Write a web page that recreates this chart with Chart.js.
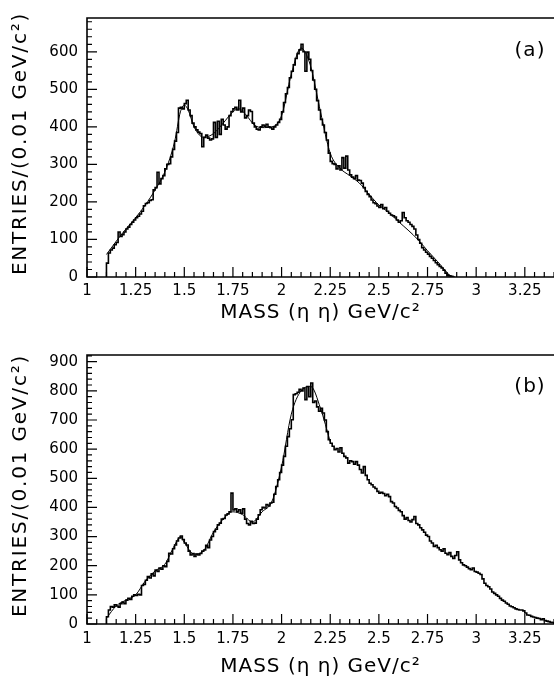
<!DOCTYPE html>
<html><head><meta charset="utf-8">
<script src="https://cdn.jsdelivr.net/npm/chart.js@4.4.1/dist/chart.umd.min.js"></script>
<style>html,body{margin:0;padding:0;background:#fff;}canvas{display:block;}</style>
</head><body>
<canvas id="ca" width="554" height="332"></canvas>
<canvas id="cb" width="554" height="346"></canvas>
<script>
// ---------- data ----------
const binWidth = 0.01;
const histAStart = 1.10;
const histA = [
 37,64,72,77,86,92,120,108,113,120,
 128,133,140,146,152,158,162,168,175,190,
 196,198,204,206,232,238,279,248,262,270,
 288,300,302,320,340,362,385,450,452,448,
 462,471,445,430,410,400,392,386,382,347,
 372,378,370,365,368,412,372,415,380,420,
 405,394,400,430,441,448,452,445,471,440,
 450,424,430,445,441,410,400,394,392,400,
 405,402,407,400,398,394,400,405,412,420,
 440,465,488,505,531,548,565,582,595,605,
 620,600,548,599,580,550,525,500,470,445,
 420,405,385,365,330,308,302,300,288,296,
 285,318,290,322,285,272,266,262,270,258,
 257,250,238,228,220,214,205,198,195,189,
 185,193,182,185,175,170,165,163,160,152,
 146,150,172,158,150,146,140,135,128,112,
 100,90,78,72,66,61,55,50,44,38,
 33,28,24,18,10,5,3,2,0
];
const fitAX = [1.10,1.15,1.20,1.25,1.30,1.35,1.40,1.45,1.48,1.50,1.52,1.55,1.60,1.65,1.70,1.75,1.78,1.82,1.86,1.90,1.95,2.00,2.05,2.10,2.12,2.15,2.20,2.25,2.30,2.35,2.40,2.45,2.50,2.55,2.60,2.65,2.70,2.75,2.80,2.85,2.87];
const fitAY = [60,95,128,158,192,232,280,360,440,458,445,400,372,382,410,440,448,430,405,398,400,430,540,610,600,560,440,330,290,270,250,220,192,172,148,125,100,70,42,12,0];

const histBStart = 1.10;
const histB = [
 25,48,60,58,66,62,58,70,75,70,
 82,88,84,95,100,98,102,100,132,136,
 150,163,158,172,165,185,180,192,188,200,
 197,215,243,240,258,271,285,295,302,290,
 278,271,250,237,242,232,240,237,242,250,
 254,270,262,288,300,317,325,340,346,360,
 362,374,378,385,449,391,395,385,392,380,
 395,360,345,340,352,345,346,360,375,392,
 400,398,410,405,415,418,445,472,495,520,
 545,575,610,643,670,701,787,790,795,805,
 800,810,770,815,780,827,760,765,745,730,
 740,724,700,660,632,620,610,598,602,590,
 605,586,575,570,552,560,557,548,557,545,
 530,518,540,510,495,483,478,470,465,455,
 449,452,448,440,445,437,420,415,403,398,
 390,385,372,360,365,355,350,358,369,345,
 340,330,323,315,305,300,285,278,266,270,
 262,255,250,258,243,238,245,232,225,235,
 248,220,210,203,200,195,190,186,192,180,
 178,174,170,155,140,132,128,120,110,105,
 100,95,88,82,78,72,68,62,59,56,
 52,50,48,48,45,38,31,30,26,24,
 22,20,19,15,18,12,10,8,6,5
];
const fitBX = [1.10,1.15,1.20,1.25,1.30,1.35,1.40,1.45,1.48,1.50,1.55,1.60,1.65,1.70,1.75,1.80,1.85,1.90,1.95,2.00,2.05,2.10,2.15,2.20,2.25];
const fitBY = [20,62,82,100,148,182,205,270,300,280,240,252,315,360,385,375,350,385,420,540,720,800,815,740,625];

const xTicks = [1,1.25,1.5,1.75,2,2.25,2.5,2.75,3,3.25];
const xTickLabels = ['1','1.25','1.5','1.75','2','2.25','2.5','2.75','3','3.25'];
const yTicksA = [0,100,200,300,400,500,600];
const yTicksB = [0,100,200,300,400,500,600,700,800,900];
const xTitle = 'MASS (\u03B7 \u03B7) GeV/c\u00B2';
const yTitle = 'ENTRIES/(0.01 GeV/c\u00B2)';

// ---------- helpers ----------
function histPoints(start, vals) {
  const pts = [{x: start, y: 0}];
  vals.forEach((v, i) => pts.push({x: start + i * binWidth, y: v}));
  pts.push({x: start + vals.length * binWidth, y: 0});
  return pts;
}
function xyPoints(xs, ys) { return xs.map((x, i) => ({x, y: ys[i]})); }

const decor = {
  id: 'decor',
  afterDraw(chart, args, o) {
    const {ctx, chartArea: a, scales: {x, y}} = chart;
    ctx.save();
    ctx.strokeStyle = '#000';
    ctx.lineWidth = 1.6;
    ctx.beginPath();
    ctx.moveTo(a.right, a.top); ctx.lineTo(a.left, a.top); ctx.lineTo(a.left, a.bottom); ctx.lineTo(a.right, a.bottom);
    ctx.stroke();
    ctx.lineWidth = 1.2;
    ctx.beginPath();
    const nx = Math.round((x.max - x.min) / o.xMinor);
    for (let i = 0; i <= nx; i++) {
      const v = x.min + i * o.xMinor;
      const px = x.getPixelForValue(v);
      const len = (i % o.xPer === 0) ? 10 : 5;
      ctx.moveTo(px, a.bottom); ctx.lineTo(px, a.bottom - len);
    }
    const ny = Math.floor((y.max - y.min) / o.yMinor + 1e-9);
    for (let i = 0; i <= ny; i++) {
      const v = y.min + i * o.yMinor;
      const py = y.getPixelForValue(v);
      const len = (i % o.yPer === 0) ? 10 : 5;
      ctx.moveTo(a.left, py); ctx.lineTo(a.left + len, py);
    }
    ctx.stroke();
    ctx.fillStyle = '#000';
    ctx.textAlign = 'center';
    ctx.textBaseline = 'middle';
    ctx.font = '20px "DejaVu Sans"';
    ctx.letterSpacing = '1px';
    ctx.fillText(o.tag, a.right - 24, a.top + o.tagDy);
    ctx.fillText(xTitle, (a.left + a.right) / 2, a.bottom + o.xTitleDy);
    ctx.letterSpacing = '1.8px';
    ctx.translate(21, (a.top + a.bottom) / 2 - 4);
    ctx.rotate(-Math.PI / 2);
    ctx.fillText(yTitle, 0, 0);
    ctx.restore();
  }
};

function makeChart(id, c) {
  return new Chart(document.getElementById(id), {
    type: 'line',
    data: {datasets: [
      {data: histPoints(c.start, c.hist), stepped: true, borderColor: '#000', borderWidth: 1.6, pointRadius: 0, fill: false},
      {data: xyPoints(c.fx, c.fy), cubicInterpolationMode: 'monotone', borderColor: '#000', borderWidth: 1, pointRadius: 0, fill: false}
    ]},
    options: {
      responsive: false, animation: false, events: [],
      layout: {padding: {top: c.padTop, right: 0, left: 0, bottom: 0}},
      plugins: {legend: {display: false}, tooltip: {enabled: false},
        decor: {xMinor: 0.05, xPer: 5, yMinor: 20, yPer: 5, tag: c.tag, tagDy: c.tagDy, xTitleDy: c.xTitleDy}},
      scales: {
        x: {type: 'linear', min: 1, max: 3.4,
          afterBuildTicks: s => { s.ticks = xTicks.map(v => ({value: v})); },
          afterFit: s => { s.height = c.xAxisH; },
          grid: {display: false, drawTicks: false}, border: {display: false},
          ticks: {font: {family: 'DejaVu Sans', size: 15}, color: '#000', padding: c.xPad, maxRotation: 0, autoSkip: false,
            callback: (v) => xTickLabels[xTicks.indexOf(v)]}},
        y: {type: 'linear', min: 0, max: c.yMax,
          afterBuildTicks: s => { s.ticks = c.yTicks.map(v => ({value: v})); },
          afterFit: s => { s.width = 87; },
          grid: {display: false, drawTicks: false}, border: {display: false},
          ticks: {font: {family: 'DejaVu Sans', size: 15}, color: '#000', padding: 9,
            callback: (v) => String(v)}}
      }
    },
    plugins: [decor]
  });
}

makeChart('ca', {start: histAStart, hist: histA, fx: fitAX, fy: fitAY, yMax: 690, yTicks: yTicksA,
  padTop: 8, xAxisH: 55, xPad: 5, tag: '(a)', tagDy: 33, xTitleDy: 36});
makeChart('cb', {start: histBStart, hist: histB, fx: fitBX, fy: fitBY, yMax: 923, yTicks: yTicksB,
  padTop: 23, xAxisH: 54, xPad: 6, tag: '(b)', tagDy: 32, xTitleDy: 43});
</script>
</body></html>
